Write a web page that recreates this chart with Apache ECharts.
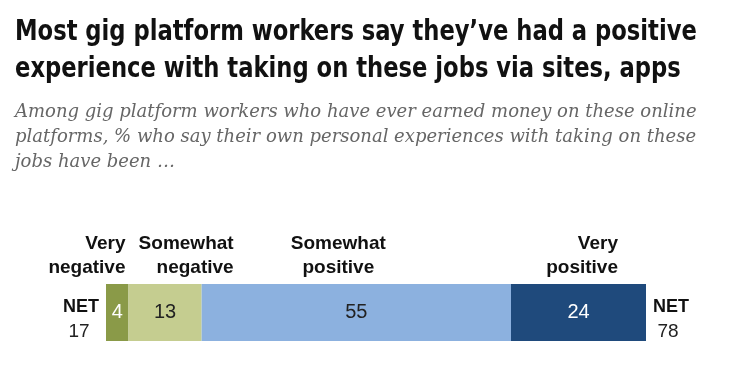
<!DOCTYPE html>
<html>
<head>
<meta charset="utf-8">
<script src="https://cdn.jsdelivr.net/npm/echarts@6/dist/echarts.min.js"></script>
<style>
html,body{margin:0;padding:0;background:#fff;}
#main{width:746px;height:388px;}
</style>
</head>
<body>
<div id="main"></div>
<script>
const titleLines = ["Most gig platform workers say they\u2019ve had a positive", "experience with taking on these jobs via sites, apps"];
const subtitleLines = ["Among gig platform workers who have ever earned money on these online", "platforms, % who say their own personal experiences with taking on these", "jobs have been \u2026"];
const categories = ["Gig platform workers"];
const seriesNames = ["Very negative", "Somewhat negative", "Somewhat positive", "Very positive"];
const seriesHeaders = [["Very", "negative"], ["Somewhat", "negative"], ["Somewhat", "positive"], ["Very", "positive"]];
const seriesValues = [4, 13, 55, 24];
const seriesColors = ["#8a9a48", "#c5cd90", "#8cb1df", "#1f4a7c"];
const labelColors = ["#ffffff", "#222222", "#222222", "#ffffff"];
const netLabel = "NET";
const netValues = [17, 78];

const chart = echarts.init(document.getElementById('main'), null, {renderer: 'canvas'});
const total = seriesValues.reduce((a, b) => a + b, 0);

const option = {
  animation: false,
  grid: {left: 106, right: 100, top: 284, height: 57},
  xAxis: {type: 'value', min: 0, max: total, show: false},
  yAxis: {type: 'category', data: categories, show: false},
  series: seriesValues.map((v, i) => ({
    name: seriesNames[i],
    type: 'bar',
    stack: 'all',
    barWidth: '100%',
    data: [v],
    itemStyle: {color: seriesColors[i]},
    label: {
      show: true, position: 'inside',
      color: labelColors[i],
      fontFamily: 'Liberation Sans, Arial, sans-serif',
      fontSize: 20
    }
  })),
  graphic: []
};
chart.setOption(option);

const px = (x) => chart.convertToPixel({xAxisIndex: 0}, x);
let cum = [0];
seriesValues.forEach((v, i) => cum.push(cum[i] + v));
const barLeft = px(0), barRight = px(total);

const g = [];
titleLines.forEach((t, i) => g.push({
  type: 'text', x: 15, y: 33 + i * 37, scaleX: 0.9,
  style: {text: t, font: 'bold 28px "Liberation Sans Narrow", "DejaVu Sans Condensed", sans-serif', fill: '#111', verticalAlign: 'middle'}
}));
subtitleLines.forEach((t, i) => g.push({
  type: 'text', x: 15, y: 112 + i * 25,
  style: {text: t, font: 'italic 18px "DejaVu Serif", Georgia, serif', fill: '#666', verticalAlign: 'middle'}
}));

const headerFont = 'bold 19px "Liberation Sans", Arial, sans-serif';
const headerPos = [
  {x: px(cum[1]) - 3, align: 'right'},
  {x: px(cum[2]) + 32, align: 'right'},
  {x: (px(cum[2]) + px(cum[3])) / 2 - 18, align: 'center'},
  {x: px(cum[4]) - 28, align: 'right'}
];
seriesHeaders.forEach((lines, i) => {
  lines.forEach((t, j) => g.push({
    type: 'text', x: headerPos[i].x, y: 244 + j * 24,
    style: {text: t, font: headerFont, fill: '#111', align: headerPos[i].align, verticalAlign: 'middle'}
  }));
});

g.push({type: 'text', x: barLeft - 7, y: 307, style: {text: netLabel, font: 'bold 18px "Liberation Sans", Arial, sans-serif', fill: '#111', align: 'right', verticalAlign: 'middle'}});
g.push({type: 'text', x: barLeft - 27, y: 332, style: {text: String(netValues[0]), font: '19px "Liberation Sans", Arial, sans-serif', fill: '#222', align: 'center', verticalAlign: 'middle'}});
g.push({type: 'text', x: barRight + 7, y: 307, style: {text: netLabel, font: 'bold 18px "Liberation Sans", Arial, sans-serif', fill: '#111', align: 'left', verticalAlign: 'middle'}});
g.push({type: 'text', x: barRight + 22, y: 332, style: {text: String(netValues[1]), font: '19px "Liberation Sans", Arial, sans-serif', fill: '#222', align: 'center', verticalAlign: 'middle'}});

chart.setOption({graphic: g});
</script>
</body>
</html>
